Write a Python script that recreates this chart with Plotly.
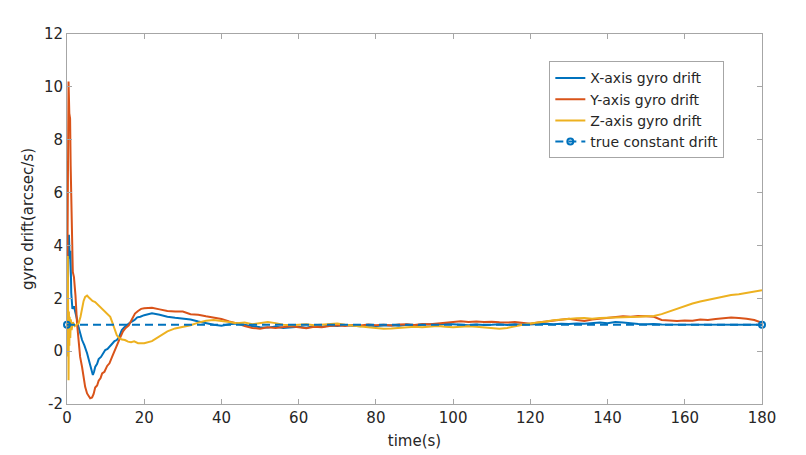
import plotly.graph_objects as go

# X-axis gyro drift, early transient (0-20 s)
x_t_early = [0, 0.15, 0.3, 0.5, 0.7, 0.9, 1.1, 1.4, 1.8, 2.2, 2.6, 3.0, 3.5, 3.9, 4.5, 5.2,
             6.0, 6.4, 6.7, 7.0, 7.3, 7.8, 8.2, 8.8, 9.4, 9.9, 10.5, 11.1, 11.7, 12.3, 12.9,
             13.5, 14.2, 14.8, 15.4, 16.0, 16.8, 17.5, 18.2, 19.0]
x_early = [1.0, 2.0, 3.6, 4.4, 3.5, 3.8, 2.2, 1.6, 1.7, 1.5, 1.2, 0.9, 0.62, 0.42, 0.22, -0.08,
           -0.52, -0.72, -0.9, -0.78, -0.6, -0.48, -0.3, -0.22, -0.05, 0.04, 0.08, 0.2, 0.28, 0.38, 0.42,
           0.54, 0.8, 0.9, 0.98, 1.04, 1.12, 1.18, 1.28, 1.3]

# Y-axis gyro drift, early transient
y_t_early = [0, 0.2, 0.4, 0.6, 0.8, 0.95, 1.1, 1.3, 1.5, 1.8, 2.2, 2.6, 3.0, 3.4, 3.9, 4.3,
             4.7, 5.2, 5.6, 6.0, 6.5, 6.9, 7.3, 7.8, 8.2, 8.7, 9.1, 9.7, 10.4, 11.0, 11.7,
             12.3, 13.0, 13.8, 14.5, 15.2, 16.0, 16.8, 17.6, 18.4, 19.2]
y_early = [1.0, 9.8, 10.2, 9.0, 8.8, 7.0, 5.5, 4.2, 3.0, 2.8, 2.1, 1.05, 0.5, -0.22, -0.6, -0.97,
           -1.35, -1.6, -1.72, -1.78, -1.75, -1.62, -1.38, -1.3, -1.12, -1.02, -0.84, -0.78, -0.56, -0.46, -0.21,
           -0.02, 0.22, 0.52, 0.75, 0.88, 0.98, 1.2, 1.42, 1.52, 1.6]

# Z-axis gyro drift, early transient
z_t_early = [0, 0.1, 0.2, 0.3, 0.4, 0.5, 0.6, 0.7, 0.85, 1.0, 1.2, 1.5, 2.0, 2.5, 3.0, 3.5,
             3.9, 4.3, 4.7, 5.2, 5.6, 6.0, 6.6, 7.3, 8.0, 8.6, 9.2, 9.9, 10.5, 11.2, 11.8,
             12.5, 12.9, 13.5, 14.2, 15.0, 15.8, 16.6, 17.4, 18.4, 19.2]
z_early = [1.0, -0.2, 3.6, 0.0, -1.1, 1.5, 0.2, 1.3, 0.5, 1.2, 0.8, 1.1, 0.95, 1.0, 1.05, 1.3,
           1.68, 1.9, 2.05, 2.1, 2.04, 1.98, 1.9, 1.86, 1.76, 1.7, 1.62, 1.52, 1.4, 1.3, 1.06,
           0.8, 0.6, 0.5, 0.44, 0.42, 0.36, 0.34, 0.37, 0.3, 0.31]

# 20-180 s, sampled every 2 s
t_late = list(range(20, 181, 2))
x_late = [1.36, 1.43, 1.38, 1.3, 1.26, 1.24, 1.2, 1.12, 1.05, 1.0, 0.96, 1.02, 1.05, 1.0, 0.95,
          0.9, 0.89, 0.93, 0.88, 0.91, 0.92, 0.89, 0.95, 0.92, 0.97, 0.95, 0.99, 0.96, 0.94, 0.97,
          0.95, 0.97, 0.98, 0.96, 1.0, 0.98, 1.01, 1.02, 0.99, 1.03, 1.02, 1.0, 0.98, 1.01, 0.99,
          1.0, 1.02, 0.99, 1.02, 1.0, 1.01, 1.02, 1.04, 1.02, 1.04, 1.03, 1.05, 1.04, 1.06, 1.08,
          1.06, 1.1, 1.08, 1.05, 1.03, 1.02, 1.03, 1.01, 1.01, 1.0, 1.0, 1.01, 1.0, 1.01, 1.0,
          1.0, 1.01, 1.0, 1.0, 1.0, 1.0]
y_late = [1.62, 1.64, 1.58, 1.52, 1.5, 1.5, 1.4, 1.38, 1.32, 1.28, 1.22, 1.12, 1.05, 0.95, 0.88,
          0.85, 0.9, 0.88, 0.9, 0.94, 0.9, 0.87, 0.92, 0.9, 0.95, 0.98, 0.95, 0.99, 0.97, 1.01,
          0.98, 1.0, 0.97, 1.01, 1.02, 0.99, 1.03, 1.02, 1.05, 1.08, 1.1, 1.13, 1.1, 1.12, 1.1,
          1.11, 1.09, 1.08, 1.1, 1.06, 1.04, 1.08, 1.12, 1.15, 1.2, 1.23, 1.18, 1.14, 1.2, 1.23,
          1.27, 1.3, 1.32, 1.3, 1.33, 1.32, 1.3, 1.18, 1.15, 1.14, 1.16, 1.15, 1.2, 1.18, 1.22,
          1.25, 1.27, 1.25, 1.23, 1.18, 1.07]
z_late = [0.3, 0.38, 0.55, 0.75, 0.86, 0.92, 0.98, 1.08, 1.15, 1.18, 1.15, 1.1, 1.06, 1.08, 1.02,
          1.05, 1.1, 1.06, 1.0, 0.98, 1.0, 1.02, 0.98, 1.0, 1.03, 1.05, 1.0, 0.96, 0.92, 0.9,
          0.88, 0.85, 0.86, 0.88, 0.9, 0.92, 0.9, 0.92, 0.95, 0.92, 0.9, 0.92, 0.94, 0.92, 0.9,
          0.86, 0.85, 0.88, 0.95, 1.0, 1.05, 1.08, 1.12, 1.17, 1.2, 1.22, 1.24, 1.25, 1.23, 1.25,
          1.26, 1.25, 1.27, 1.28, 1.3, 1.32, 1.33, 1.4, 1.5, 1.62, 1.72, 1.8, 1.88, 1.94, 2.0,
          2.05, 2.12, 2.15, 2.2, 2.26, 2.3]

true_t = [0, 180]
true_drift = [1.0, 1.0]

x_ticks = [0, 20, 40, 60, 80, 100, 120, 140, 160, 180]
y_ticks = [-2, 0, 2, 4, 6, 8, 10, 12]
y_tick_text = ["-2", "0", "2", "4", "6", "8", "10", "12"]

font = "DejaVu Sans, sans-serif"
axis_col = "#a6a6a6"
text_col = "#262626"

fig = go.Figure()
fig.add_trace(go.Scatter(x=x_t_early + t_late, y=x_early + x_late, mode="lines",
                         name="X-axis gyro drift", line=dict(color="#0072BD", width=2)))
fig.add_trace(go.Scatter(x=y_t_early + t_late, y=y_early + y_late, mode="lines",
                         name="Y-axis gyro drift", line=dict(color="#D95319", width=2)))
fig.add_trace(go.Scatter(x=z_t_early + t_late, y=z_early + z_late, mode="lines",
                         name="Z-axis gyro drift", line=dict(color="#EDB120", width=2)))
fig.add_trace(go.Scatter(x=true_t, y=true_drift, mode="lines+markers",
                         name="true constant drift", cliponaxis=False,
                         line=dict(color="#0072BD", width=2, dash="8px,5px"),
                         marker=dict(symbol="circle-open", size=6, color="#0072BD",
                                     line=dict(width=2))))

axis_common = dict(showgrid=False, zeroline=False, showline=True, linecolor=axis_col,
                   linewidth=1, mirror="ticks", ticks="inside", ticklen=5, tickcolor=axis_col,
                   tickfont=dict(family=font, size=15, color=text_col))

fig.update_xaxes(range=[0, 180], tickvals=x_ticks,
                 title=dict(text="time(s)", font=dict(family=font, size=15, color=text_col),
                            standoff=9),
                 **axis_common)
fig.update_yaxes(range=[-2, 12], tickvals=y_ticks, ticktext=y_tick_text,
                 title=dict(text="gyro drift(arcsec/s)",
                            font=dict(family=font, size=15, color=text_col), standoff=6),
                 **axis_common)

# page body adds an 8px offset, margins are set so the axes box lands at x 67-762, y 34-404
fig.update_layout(
    width=806, height=455,
    margin=dict(l=59, r=52, t=26, b=59),
    plot_bgcolor="white", paper_bgcolor="white",
    showlegend=True,
    legend=dict(x=0.694, y=0.926, xanchor="left", yanchor="top",
                bgcolor="white", bordercolor=axis_col, borderwidth=1,
                font=dict(family=font, size=14, color=text_col),
                tracegroupgap=0, itemwidth=30),
)

fig.write_html("out.html")
